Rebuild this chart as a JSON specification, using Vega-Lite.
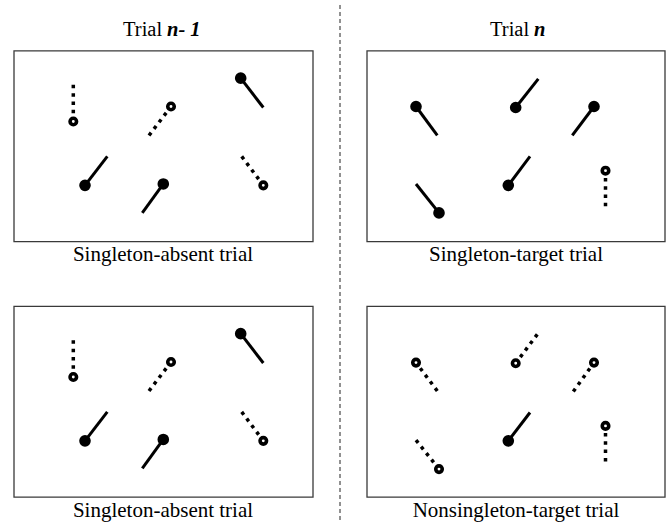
{
  "$schema": "https://vega.github.io/schema/vega-lite/v6.json",
  "width": 667,
  "height": 522,
  "autosize": {"type": "fit", "contains": "padding"},
  "padding": 0,
  "background": "white",
  "config": {"view": {"stroke": null}},
  "datasets": {
    "boxes": [
      {"x1": 14, "x2": 313, "y1": 51, "y2": 242},
      {"x1": 367, "x2": 665, "y1": 51, "y2": 242},
      {"x1": 14, "x2": 313, "y1": 307, "y2": 498},
      {"x1": 367, "x2": 665, "y1": 307, "y2": 498}
    ],
    "divider": [{"x": 340, "y1": 5, "y2": 522}],
    "items": [
      {"panel": 1, "kind": "dist", "cx": 73.3, "cy": 121.7, "ex": 73.3, "ey": 85},
      {"panel": 1, "kind": "dist", "cx": 171, "cy": 106.7, "ex": 149, "ey": 135.7},
      {"panel": 1, "kind": "targ", "cx": 240.7, "cy": 78.3, "ex": 263.3, "ey": 107.7},
      {"panel": 1, "kind": "targ", "cx": 85, "cy": 185.7, "ex": 107.3, "ey": 156.7},
      {"panel": 1, "kind": "targ", "cx": 163.3, "cy": 184.3, "ex": 142.3, "ey": 213.3},
      {"panel": 1, "kind": "dist", "cx": 263.3, "cy": 185.7, "ex": 241.7, "ey": 156.7},
      {"panel": 2, "kind": "targ", "cx": 416, "cy": 106.7, "ex": 437.3, "ey": 135.7},
      {"panel": 2, "kind": "targ", "cx": 515.7, "cy": 107.7, "ex": 538.3, "ey": 79},
      {"panel": 2, "kind": "targ", "cx": 594, "cy": 106.7, "ex": 572.3, "ey": 135.7},
      {"panel": 2, "kind": "targ", "cx": 439, "cy": 213.3, "ex": 416, "ey": 184.3},
      {"panel": 2, "kind": "targ", "cx": 508.3, "cy": 185.7, "ex": 530, "ey": 156.7},
      {"panel": 2, "kind": "dist", "cx": 605.5, "cy": 171, "ex": 605.5, "ey": 206.7},
      {"panel": 3, "kind": "dist", "cx": 73.3, "cy": 377.7, "ex": 73.3, "ey": 341},
      {"panel": 3, "kind": "dist", "cx": 171, "cy": 362.7, "ex": 149, "ey": 391.7},
      {"panel": 3, "kind": "targ", "cx": 240.7, "cy": 334.3, "ex": 263.3, "ey": 363.7},
      {"panel": 3, "kind": "targ", "cx": 85, "cy": 441.7, "ex": 107.3, "ey": 412.7},
      {"panel": 3, "kind": "targ", "cx": 163.3, "cy": 440.3, "ex": 142.3, "ey": 469.3},
      {"panel": 3, "kind": "dist", "cx": 263.3, "cy": 441.7, "ex": 241.7, "ey": 412.7},
      {"panel": 4, "kind": "dist", "cx": 416, "cy": 363.3, "ex": 437.3, "ey": 391.7},
      {"panel": 4, "kind": "dist", "cx": 515.7, "cy": 364, "ex": 537.3, "ey": 335},
      {"panel": 4, "kind": "dist", "cx": 594, "cy": 363.3, "ex": 573.3, "ey": 392.3},
      {"panel": 4, "kind": "dist", "cx": 439, "cy": 470, "ex": 416, "ey": 441},
      {"panel": 4, "kind": "targ", "cx": 508.3, "cy": 441.7, "ex": 530, "ey": 413.3},
      {"panel": 4, "kind": "dist", "cx": 605.5, "cy": 426.7, "ex": 605.5, "ey": 462.3}
    ],
    "plain": [
      {"x": 123, "y": 36, "t": "Trial"},
      {"x": 490, "y": 36, "t": "Trial"}
    ],
    "emph": [
      {"x": 167, "y": 36, "t": "n- 1"},
      {"x": 534, "y": 36, "t": "n"}
    ],
    "captions": [
      {"x": 163, "y": 262, "t": "Singleton-absent trial"},
      {"x": 516, "y": 262, "t": "Singleton-target trial"},
      {"x": 163, "y": 518, "t": "Singleton-absent trial"},
      {"x": 516, "y": 518, "t": "Nonsingleton-target trial"}
    ]
  },
  "resolve": {"scale": {"x": "shared", "y": "shared"}},
  "layer": [
    {
      "data": {"name": "boxes"},
      "mark": {"type": "rect", "fill": "white", "stroke": "#3a3a3a", "strokeWidth": 1.3},
      "encoding": {
        "x": {"field": "x1", "type": "quantitative", "scale": {"domain": [0, 667], "nice": false, "zero": false}, "axis": null},
        "x2": {"field": "x2"},
        "y": {"field": "y1", "type": "quantitative", "scale": {"domain": [0, 522], "nice": false, "zero": false, "reverse": true}, "axis": null},
        "y2": {"field": "y2"}
      }
    },
    {
      "data": {"name": "divider"},
      "mark": {"type": "rule", "stroke": "#222", "strokeWidth": 1, "strokeDash": [4, 3]},
      "encoding": {
        "x": {"field": "x", "type": "quantitative"},
        "y": {"field": "y1", "type": "quantitative"},
        "y2": {"field": "y2"}
      }
    },
    {
      "data": {"name": "items"},
      "transform": [{"filter": "datum.kind === 'targ'"}],
      "mark": {"type": "rule", "stroke": "black", "strokeWidth": 3, "strokeCap": "butt"},
      "encoding": {
        "x": {"field": "ex", "type": "quantitative"},
        "y": {"field": "ey", "type": "quantitative"},
        "x2": {"field": "cx"},
        "y2": {"field": "cy"}
      }
    },
    {
      "data": {"name": "items"},
      "transform": [{"filter": "datum.kind === 'dist'"}],
      "mark": {"type": "rule", "stroke": "black", "strokeWidth": 3.5, "strokeCap": "butt", "strokeDash": [3.5, 4.8]},
      "encoding": {
        "x": {"field": "ex", "type": "quantitative"},
        "y": {"field": "ey", "type": "quantitative"},
        "x2": {"field": "cx"},
        "y2": {"field": "cy"}
      }
    },
    {
      "data": {"name": "items"},
      "transform": [{"filter": "datum.kind === 'targ'"}],
      "mark": {"type": "point", "shape": "circle", "filled": true, "fill": "black", "opacity": 1, "size": 135, "strokeWidth": 0},
      "encoding": {
        "x": {"field": "cx", "type": "quantitative"},
        "y": {"field": "cy", "type": "quantitative"}
      }
    },
    {
      "data": {"name": "items"},
      "transform": [{"filter": "datum.kind === 'dist'"}],
      "mark": {"type": "point", "shape": "circle", "filled": false, "fill": "white", "fillOpacity": 1, "stroke": "black", "strokeOpacity": 1, "opacity": 1, "size": 42, "strokeWidth": 3.6},
      "encoding": {
        "x": {"field": "cx", "type": "quantitative"},
        "y": {"field": "cy", "type": "quantitative"}
      }
    },
    {
      "data": {"name": "plain"},
      "mark": {"type": "text", "align": "left", "baseline": "alphabetic", "font": "Liberation Serif", "fontSize": 20.5, "color": "black"},
      "encoding": {
        "x": {"field": "x", "type": "quantitative"},
        "y": {"field": "y", "type": "quantitative"},
        "text": {"field": "t"}
      }
    },
    {
      "data": {"name": "emph"},
      "mark": {"type": "text", "align": "left", "baseline": "alphabetic", "font": "Liberation Serif", "fontSize": 20.5, "fontWeight": "bold", "fontStyle": "italic", "color": "black"},
      "encoding": {
        "x": {"field": "x", "type": "quantitative"},
        "y": {"field": "y", "type": "quantitative"},
        "text": {"field": "t"}
      }
    },
    {
      "data": {"name": "captions"},
      "mark": {"type": "text", "align": "center", "baseline": "alphabetic", "font": "Liberation Serif", "fontSize": 21, "color": "black"},
      "encoding": {
        "x": {"field": "x", "type": "quantitative"},
        "y": {"field": "y", "type": "quantitative"},
        "text": {"field": "t"}
      }
    }
  ]
}
